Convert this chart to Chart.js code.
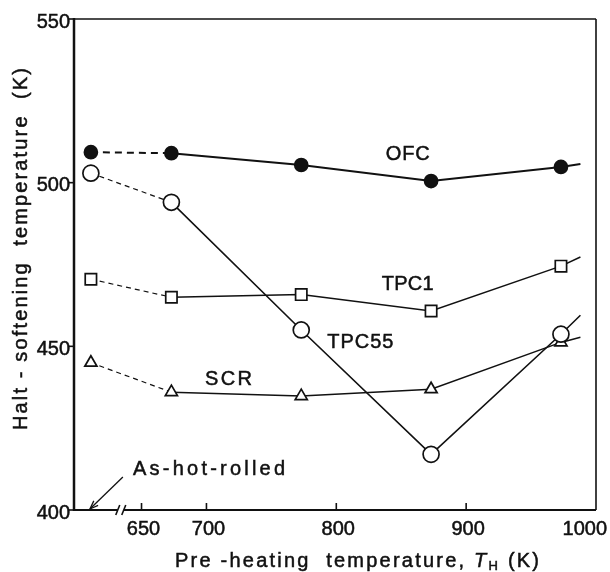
<!DOCTYPE html>
<html>
<head>
<meta charset="utf-8">
<script src="https://cdn.jsdelivr.net/npm/chart.js@4.4.0/dist/chart.umd.min.js"></script>
<style>
  html, body { margin: 0; padding: 0; background: #fff; }
  #wrap { width: 610px; height: 572px; }
</style>
</head>
<body>
<div id="wrap"><canvas id="chart"></canvas></div>
<script>
// pre-heating temperatures (K); 611 is the nominal "as-hot-rolled" position left of the axis break
const xTemps = [611, 673, 773, 873, 973];
const tailX = 988;
const xTicks = [650, 700, 800, 900, 1000];
const yTicks = [400, 450, 500, 550];
const breakAt = 634;

// half-softening temperature (K); last value is where each line runs off past the last marker
const ofc   = [509.3, 509.0, 505.4, 500.5, 504.8, 505.7];
const tpc1  = [470.5, 465.0, 465.8, 460.8, 474.5, 477.3];
const tpc55 = [502.9, 494.0, 455.0, 417.0, 453.7, 459.5];
const scr   = [445.0, 436.0, 434.8, 436.9, 451.2, 452.8];

const ink = '#111';
const FONT = '"Liberation Sans", Arial, sans-serif';
const ofcDash = [7, 5];
const thinDash = [5, 4];

function pts(vals) {
  const xs = xTemps.concat([tailX]);
  return vals.map((v, i) => ({ x: xs[i], y: v }));
}

function series(label, vals, style, radius, filled, width, dash, dashWidth) {
  const last = vals.length - 1;
  return {
    label: label,
    data: pts(vals),
    showLine: true,
    borderColor: ink,
    borderWidth: width,
    pointStyle: style,
    pointRadius: ctx => ctx.dataIndex === last ? 0 : radius,
    pointBorderWidth: 1.7,
    pointBorderColor: ink,
    pointBackgroundColor: filled ? ink : '#fff',
    segment: {
      borderDash: ctx => ctx.p0DataIndex === 0 ? dash : undefined,
      borderWidth: ctx => ctx.p0DataIndex === 0 ? dashWidth : undefined
    },
    clip: false
  };
}

// a little extra ink, the scanned lettering is heavy
function inkText(ctx, t, x, y) {
  ctx.fillText(t, x, y);
  ctx.strokeText(t, x, y);
}

// draw a list of [text, font, dy] pieces so that they span exactly `width` px, starting at x
function fitPieces(ctx, pieces, x, y, width) {
  let natural = 0, gaps = 0;
  pieces.forEach(([t, f]) => {
    ctx.font = f;
    for (const ch of t) { natural += ctx.measureText(ch).width; gaps++; }
  });
  const sp = gaps > 1 ? (width - natural) / (gaps - 1) : 0;
  let cx = x;
  pieces.forEach(([t, f, dy]) => {
    ctx.font = f;
    for (const ch of t) {
      inkText(ctx, ch, cx, y + (dy || 0));
      cx += ctx.measureText(ch).width + sp;
    }
  });
}

const decor = {
  id: 'decor',
  afterDraw(chart) {
    const { ctx, chartArea: a, scales: { x, y } } = chart;
    ctx.save();
    ctx.strokeStyle = ink;
    ctx.fillStyle = ink;
    ctx.lineCap = 'butt';

    const line = (x1, y1, x2, y2, w) => {
      ctx.lineWidth = w;
      ctx.beginPath(); ctx.moveTo(x1, y1); ctx.lineTo(x2, y2); ctx.stroke();
    };

    // frame
    line(a.left, a.top - 1, a.left, a.bottom + 1, 2.5);
    line(a.left, a.top, a.right, a.top, 1.6);
    line(a.right, a.top, a.right, a.bottom, 1.6);
    const bx = x.getPixelForValue(breakAt);
    line(a.left, a.bottom, bx - 3, a.bottom, 2.2);
    line(bx + 3, a.bottom, a.right, a.bottom, 2.2);
    line(bx - 5, a.bottom + 5, bx - 1, a.bottom - 5, 1.6);
    line(bx + 1, a.bottom + 5, bx + 5, a.bottom - 5, 1.6);

    // ticks and tick labels
    yTicks.forEach(v => {
      const py = y.getPixelForValue(v);
      line(a.left - 6, py, a.left, py, 1.6);
    });
    xTicks.forEach(v => {
      if (v < 1000) {
        const px = x.getPixelForValue(v);
        line(px, a.bottom, px, a.bottom - 7, 1.6);
      }
    });

    ctx.lineWidth = 0.5;
    ctx.font = '20px ' + FONT;
    ctx.textAlign = 'right';
    ctx.textBaseline = 'middle';
    yTicks.forEach(v => {
      inkText(ctx, String(v), a.left - 4, y.getPixelForValue(v) + 3);
    });
    ctx.textBaseline = 'alphabetic';
    xTicks.forEach(v => {
      if (v < 1000) {
        ctx.textAlign = 'center';
        inkText(ctx, String(v), x.getPixelForValue(v) + 2, a.bottom + 25);
      } else {
        ctx.textAlign = 'right';
        inkText(ctx, String(v), chart.width - 3, a.bottom + 25);
      }
    });
    ctx.textAlign = 'left';

    // series labels: [text, centre T, centre value, width px]
    ctx.textBaseline = 'middle';
    const labels = [
      ['OFC', 855, 508.7, 44],
      ['TPC1', 855, 468.8, 52],
      ['TPC55', 818.5, 451.2, 66],
      ['SCR', 717, 439.8, 47],
      ['As-hot-rolled', 702, 412.4, 152]
    ];
    labels.forEach(([t, vx, vy, w]) => {
      fitPieces(ctx, [[t, '20px ' + FONT]], x.getPixelForValue(vx) - w / 2, y.getPixelForValue(vy), w);
    });

    // arrow to the as-hot-rolled position
    const ax = x.getPixelForValue(xTemps[0]) - 1, ay = a.bottom - 1;
    const sx = ax + 33, sy = ay - 32;
    line(sx, sy, ax, ay, 1.3);
    const ang = Math.atan2(ay - sy, ax - sx);
    ctx.beginPath();
    ctx.moveTo(ax, ay);
    ctx.lineTo(ax - 9 * Math.cos(ang - 0.35), ay - 9 * Math.sin(ang - 0.35));
    ctx.moveTo(ax, ay);
    ctx.lineTo(ax - 9 * Math.cos(ang + 0.35), ay - 9 * Math.sin(ang + 0.35));
    ctx.lineWidth = 1.3;
    ctx.stroke();
    ctx.lineWidth = 0.5;

    // y title
    ctx.save();
    ctx.translate(21, 249);
    ctx.rotate(-Math.PI / 2);
    fitPieces(ctx, [['Halt - softening  temperature  (K)', '20px ' + FONT]], -181, 0, 362);
    ctx.restore();

    // x title with italic T and subscript H
    ctx.textBaseline = 'alphabetic';
    fitPieces(ctx, [
      ['Pre -heating  temperature, ', '20px ' + FONT],
      ['T', 'italic 20px ' + FONT],
      ['H', '13px ' + FONT, 3],
      [' (K)', '20px ' + FONT]
    ], 175, 567, 364);

    ctx.restore();
  }
};

new Chart(document.getElementById('chart'), {
  type: 'scatter',
  data: {
    datasets: [
      series('OFC', ofc, 'circle', 6.5, true, 2, ofcDash, 2),
      series('TPC1', tpc1, 'rect', 8, false, 1.5, thinDash, 1.2),
      series('TPC55', tpc55, 'circle', 8, false, 1.6, thinDash, 1.2),
      series('SCR', scr, 'triangle', 7, false, 1.5, thinDash, 1.2)
    ]
  },
  options: {
    responsive: true,
    maintainAspectRatio: false,
    animation: false,
    layout: { padding: { left: 0, top: 19, right: 14, bottom: 0 } },
    plugins: { legend: { display: false }, tooltip: { enabled: false } },
    scales: {
      x: {
        type: 'linear',
        min: 598,
        max: 1000,
        afterBuildTicks: s => { s.ticks = xTicks.map(v => ({ value: v })); },
        afterFit: s => { s.height = 62; },
        grid: { display: false, drawTicks: false },
        border: { display: false },
        ticks: { display: false }
      },
      y: {
        min: 400,
        max: 550,
        afterBuildTicks: s => { s.ticks = yTicks.map(v => ({ value: v })); },
        afterFit: s => { s.width = 74; },
        grid: { display: false, drawTicks: false },
        border: { display: false },
        ticks: { display: false }
      }
    }
  },
  plugins: [decor]
});
</script>
</body>
</html>
